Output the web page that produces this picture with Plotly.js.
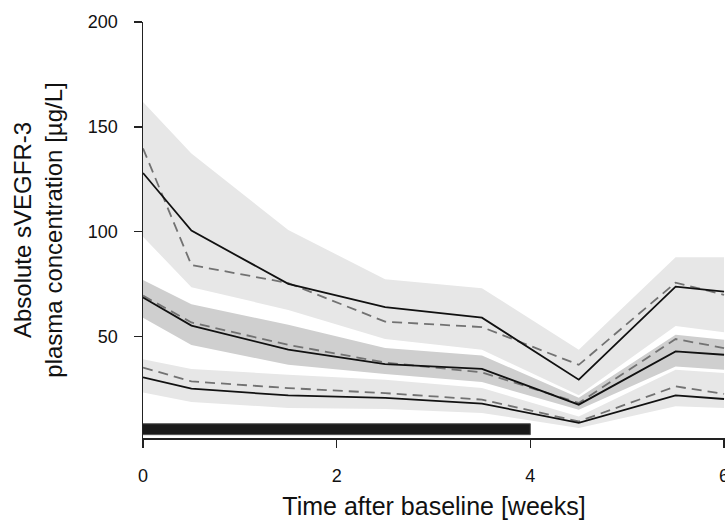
<!DOCTYPE html>
<html>
<head>
<meta charset="utf-8">
<script src="https://cdn.plot.ly/plotly-3.0.1.min.js"></script>
<style>
  html, body { margin: 0; padding: 0; background: #ffffff; }
  #chart { width: 725px; height: 526px; }
</style>
</head>
<body>
<div id="chart"></div>
<script>
// Time points (weeks)
const times = [0, 0.5, 1.5, 2.5, 3.5, 4.5, 5.5, 6];

// Upper group
const upperSolid  = [128, 100.5, 75.1, 64.0, 59.0, 29.4, 73.8, 71.4];
const upperDashed = [139.7, 84.1, 75.5, 57.1, 54.5, 36.5, 75.7, 69.9];
const upperHigh   = [161.9, 137.3, 100.8, 77.3, 73.0, 43.7, 87.8, 87.8];
const upperLow    = [97.6, 73.5, 62.7, 48.8, 43.7, 22.0, 55.0, 52.0];

// Middle group
const middleSolid  = [68.6, 55.2, 43.7, 36.8, 34.6, 17.5, 42.9, 41.3];
const middleDashed = [69.5, 56.7, 46.0, 37.6, 32.9, 18.3, 48.8, 44.5];
const middleHigh   = [77.0, 65.4, 55.6, 44.5, 41.0, 20.8, 50.8, 48.4];
const middleLow    = [58.9, 46.0, 36.5, 32.1, 28.3, 15.1, 35.7, 34.1];

// Lower group
const lowerSolid  = [30.5, 25.1, 21.9, 20.7, 18.0, 8.8, 21.9, 20.2];
const lowerDashed = [35.2, 28.6, 25.4, 23.0, 19.9, 9.5, 26.2, 22.6];
const lowerHigh   = [39.2, 34.5, 31.8, 29.4, 25.4, 11.9, 34.1, 32.6];
const lowerLow    = [23.3, 18.8, 15.9, 15.4, 13.5, 6.4, 16.7, 15.9];

// Treatment period bar
const treatmentWeeks = [0, 4];
const treatmentBand = [3.2, 8.4];

// Axis ticks
const xTicks = [0, 2, 4, 6];
const yTicks = [50, 100, 150, 200];

const LIGHT = '#e7e7e7';
const DARK = '#cfcfcf';

function ribbon(hi, lo, color) {
  return {
    x: times.concat(times.slice().reverse()),
    y: hi.concat(lo.slice().reverse()),
    type: 'scatter', mode: 'lines', fill: 'toself',
    fillcolor: color, line: {width: 0, color: color},
    hoverinfo: 'skip', showlegend: false
  };
}
function solid(y) {
  return {x: times, y: y, type: 'scatter', mode: 'lines',
    line: {color: '#111111', width: 1.8}, showlegend: false};
}
function dashed(y) {
  return {x: times, y: y, type: 'scatter', mode: 'lines',
    line: {color: '#727272', width: 1.8, dash: '10px,6px'}, showlegend: false};
}

const bar = {
  x: [treatmentWeeks[0], treatmentWeeks[1], treatmentWeeks[1], treatmentWeeks[0]],
  y: [treatmentBand[0], treatmentBand[0], treatmentBand[1], treatmentBand[1]],
  type: 'scatter', mode: 'lines', fill: 'toself',
  fillcolor: '#1a1a1a', line: {color: '#555555', width: 1}, showlegend: false
};

const data = [
  ribbon(upperHigh, upperLow, LIGHT),
  ribbon(lowerHigh, lowerLow, LIGHT),
  ribbon(middleHigh, middleLow, DARK),
  dashed(upperDashed), solid(upperSolid),
  dashed(middleDashed), solid(middleSolid),
  dashed(lowerDashed), solid(lowerSolid),
  bar
];

const FONT = 'Liberation Sans, Arial, sans-serif';

const layout = {
  width: 725, height: 526,
  margin: {l: 143.3, r: 0, t: 21.7, b: 87.7, pad: 0},
  paper_bgcolor: '#ffffff', plot_bgcolor: '#ffffff',
  showlegend: false,
  font: {family: FONT, color: '#111111', size: 18},
  xaxis: {
    range: [0, 6.01], tickvals: xTicks, ticktext: xTicks.map(String),
    showgrid: false, zeroline: false,
    showline: true, linecolor: '#222222', linewidth: 1.5,
    ticks: 'outside', ticklen: 8, tickwidth: 1.5, tickcolor: '#222222',
    ticklabelstandoff: 13, ticklabeloverflow: 'allow',
    tickfont: {family: FONT, size: 18, color: '#111111'},
    title: {text: 'Time after baseline [weeks]', standoff: 12,
      font: {family: FONT, size: 25, color: '#111111'}},
    automargin: false, fixedrange: true
  },
  yaxis: {
    range: [1.6, 200], tickvals: yTicks, ticktext: yTicks.map(String),
    showgrid: false, zeroline: false,
    showline: true, linecolor: '#222222', linewidth: 1.5,
    ticks: 'outside', ticklen: 8, tickwidth: 1.5, tickcolor: '#222222',
    ticklabelstandoff: 12,
    tickfont: {family: FONT, size: 18, color: '#111111'},
    title: {text: 'Absolute sVEGFR-3<br>plasma concentration [µg/L]', standoff: 18,
      font: {family: FONT, size: 24, color: '#111111'}},
    automargin: false, fixedrange: true
  }
};

Plotly.newPlot('chart', data, layout, {displayModeBar: false, staticPlot: true});
</script>
</body>
</html>
